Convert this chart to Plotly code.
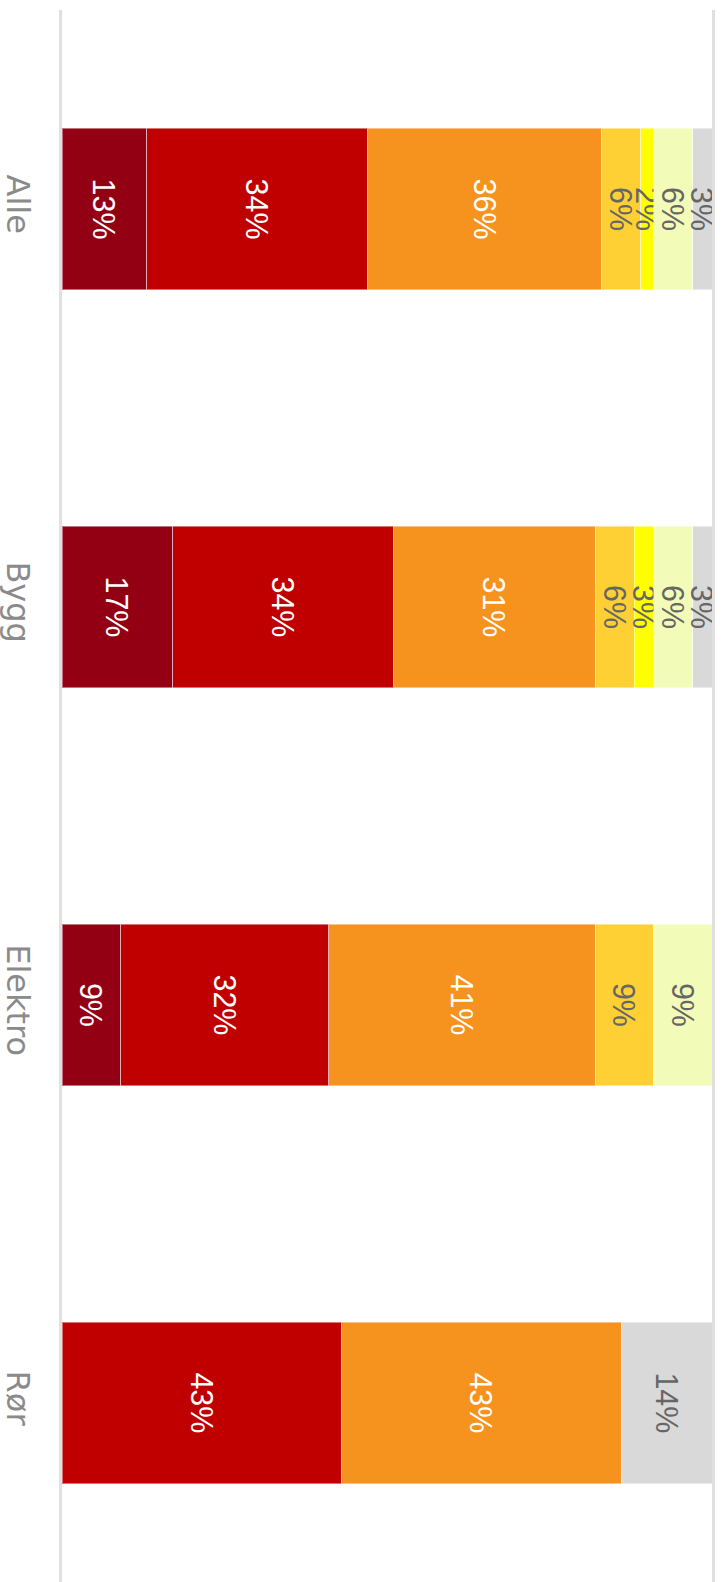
import plotly.graph_objects as go

categories = ["Alle", "Bygg", "Elektro", "Rør"]

series_names = ["Kategori 1", "Kategori 2", "Kategori 3", "Kategori 4",
                "Kategori 5", "Kategori 6", "Kategori 7"]
values = [
    [13, 17, 9, None],     # mørk rød
    [34, 34, 32, 43],      # rød
    [36, 31, 41, 43],      # oransje
    [6, 6, 9, None],       # gul-oransje
    [2, 3, None, None],    # gul
    [6, 6, 9, None],       # lys gul
    [3, 3, None, 14],      # grå
]
colors = ["#930014", "#C00000", "#F6921E", "#FFD034", "#FFFF00", "#F2FCB8", "#D9D9D9"]
text_colors = ["#FFFFFF", "#FFFFFF", "#FFFFFF", "#666666", "#666666", "#666666", "#666666"]

fig = go.Figure()
for name, vals, col, tcol in zip(series_names, values, colors, text_colors):
    fig.add_trace(go.Bar(
        y=categories,
        x=vals,
        name=name,
        orientation="h",
        marker=dict(color=col, line=dict(color="rgba(255,255,255,0.45)", width=1)),
        text=[f"{v}%" if v else "" for v in vals],
        textposition="inside",
        insidetextanchor="middle",
        textangle=90,
        constraintext="none",
        cliponaxis=False,
        textfont=dict(family="Liberation Sans, Arial, sans-serif", size=30.5, color=tcol),
        hoverinfo="x+y+name",
    ))

fig.update_layout(
    barmode="stack",
    bargap=0.595,
    width=723,
    height=1582,
    margin=dict(l=62, r=11, t=10, b=0, autoexpand=False),
    plot_bgcolor="#FFFFFF",
    paper_bgcolor="#FFFFFF",
    showlegend=False,
    font=dict(family="Liberation Sans, Arial, sans-serif"),
)
fig.update_xaxes(
    range=[0, 100],
    showticklabels=False,
    showgrid=False,
    zeroline=False,
    automargin=False,
    fixedrange=True,
)
fig.update_yaxes(
    range=[3.45, -0.5],
    tickangle=90,
    tickfont=dict(family="DejaVu Sans, Liberation Sans, sans-serif", size=32, color="#8A8A8A"),
    ticklabelstandoff=14,
    showline=True,
    mirror=True,
    linecolor="#E0E0E0",
    linewidth=3,
    showgrid=False,
    zeroline=False,
    ticks="",
    automargin=False,
    fixedrange=True,
)

fig.write_html(
    "out.html",
    config={"displayModeBar": False},
    post_script="document.body.style.margin='0';document.body.style.overflow='hidden';",
)
